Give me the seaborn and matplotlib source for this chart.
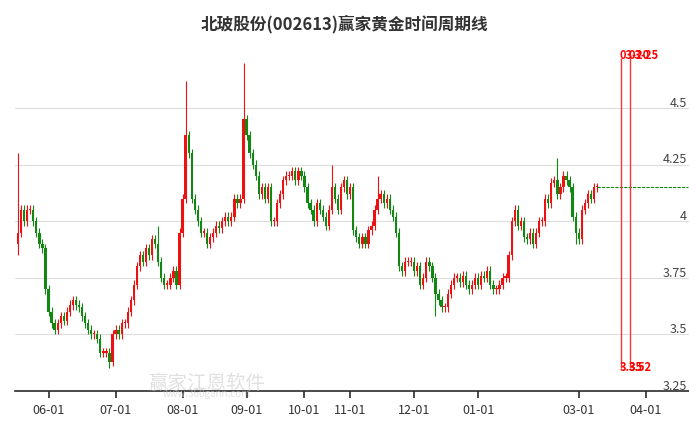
import numpy as np
import matplotlib
matplotlib.use("Agg")
import matplotlib.pyplot as plt
import seaborn as sns

closes = [3.95, 4.05, 4.0, 4.05, 4.05, 4.0, 3.95, 3.9, 3.88, 3.7,
          3.6, 3.55, 3.52, 3.55, 3.58, 3.56, 3.6, 3.63, 3.65, 3.63,
          3.62, 3.58, 3.55, 3.52, 3.5, 3.5, 3.48, 3.42, 3.42, 3.42,
          3.38, 3.5, 3.52, 3.5, 3.55, 3.55, 3.6, 3.65, 3.72, 3.8,
          3.85, 3.82, 3.88, 3.85, 3.92, 3.9, 3.82, 3.75, 3.72, 3.72,
          3.75, 3.78, 3.72, 3.95, 4.1, 4.38, 4.3, 4.1, 4.05, 4.0,
          3.95, 3.95, 3.9, 3.93, 3.95, 3.98, 3.97, 4.0, 4.02, 4.0,
          4.02, 4.1, 4.08, 4.1, 4.45, 4.38, 4.3, 4.25, 4.2, 4.12,
          4.15, 4.1, 4.15, 4.0, 4.0, 4.08, 4.12, 4.18, 4.2, 4.2,
          4.22, 4.18, 4.22, 4.2, 4.15, 4.08, 4.05, 4.0, 4.08, 4.05,
          4.02, 3.98, 4.05, 4.15, 4.1, 4.05, 4.15, 4.18, 4.12, 4.15,
          3.96, 3.93, 3.9, 3.93, 3.9, 3.96, 3.98, 4.05, 4.1, 4.12,
          4.08, 4.1, 4.05, 4.02, 3.95, 3.8, 3.78, 3.82, 3.82, 3.82,
          3.78, 3.8, 3.72, 3.75, 3.82, 3.8, 3.75, 3.68, 3.65, 3.62,
          3.62, 3.68, 3.72, 3.75, 3.75, 3.73, 3.76, 3.72, 3.7, 3.72,
          3.75, 3.72, 3.76, 3.75, 3.78, 3.72, 3.7, 3.7, 3.72, 3.75,
          3.75, 3.85, 4.0, 4.05, 3.98, 4.0, 3.93, 3.92, 3.95, 3.9,
          3.95, 4.0, 4.0, 4.1, 4.08, 4.17, 4.18, 4.12, 4.15, 4.2,
          4.18, 4.15, 4.02, 3.95, 3.92, 4.05, 4.08, 4.12, 4.1, 4.15,
          4.15]
first_open = 3.9
spike_highs = {0: 4.3, 55: 4.62, 74: 4.7, 46: 3.98, 103: 4.25, 118: 4.2, 177: 4.28}
spike_lows = {30: 3.35, 0: 3.85, 137: 3.58, 183: 3.9}

tick_pos = [10, 32, 54, 75, 94, 109, 130, 151, 184, 206]
tick_labels = ["06-01", "07-01", "08-01", "09-01", "10-01", "11-01",
               "12-01", "01-01", "03-01", "04-01"]
y_ticks = [3.25, 3.5, 3.75, 4, 4.25, 4.5]
cycle_lines = [198, 201]
cycle_top = ["03-20", "03-25"]
cycle_bottom = ["3.35", "3.52"]
last_price = 4.15

sns.set_theme(style="white")
plt.rcParams["font.family"] = ["Noto Sans CJK SC", "DejaVu Sans"]

fig = plt.figure(figsize=(6.89, 4.27), dpi=100)
ax = fig.add_axes([15 / 689, 35 / 427, 674 / 689, 352 / 427])

opens = [first_open] + closes[:-1]
idx = np.arange(len(closes))
for i, (o, c) in enumerate(zip(opens, closes)):
    col = "#ee1111" if c >= o else "#118811"
    hi = spike_highs.get(i, max(o, c) + 0.02)
    lo = spike_lows.get(i, min(o, c) - 0.02)
    ax.vlines(i, lo, hi, color=col, linewidth=0.8)
    body = max(abs(c - o), 0.006)
    ax.bar(i, body, bottom=min(o, c), width=0.75, color=col, linewidth=0)

sns.lineplot(x=[len(closes) - 1, 220], y=[last_price, last_price], ax=ax,
             color="#118811", linestyle=(0, (3, 1)), linewidth=0.8)

for k, xp in enumerate(cycle_lines):
    ax.vlines(xp, 3.35, 4.72, color="#ff3333", linewidth=1)
    ax.text(xp - 0.5, 4.735, cycle_top[k], color="#ff0000", fontsize=8,
            fontweight="bold", va="center", ha="left")
    ax.text(xp - 0.5, 3.36, cycle_bottom[k], color="#ff0000", fontsize=8,
            fontweight="bold", va="center", ha="left")

for v in y_ticks:
    ax.axhline(v, color="#dddddd", linewidth=0.8, zorder=0)
    ax.text(219.5, v + 0.025, f"{v:g}", ha="right", va="center",
            fontsize=9, color="#444444")

ax.text(62, 3.29, "赢家江恩软件", fontsize=14, color="#cccccc", alpha=0.6,
        ha="center", va="center")
ax.text(62, 3.24, "www.360gann.com", fontsize=7, color="#cccccc", alpha=0.6,
        ha="center", va="center")

ax.set_xlim(-1, 220.2)
ax.set_ylim(3.25, 4.805)
ax.set_xticks(tick_pos)
ax.set_xticklabels(tick_labels, fontsize=9, color="#333333")
ax.set_yticks([])
ax.tick_params(axis="x", length=5, color="#333333", direction="out", bottom=True)
for s in ["left", "right", "top"]:
    ax.spines[s].set_visible(False)
ax.spines["bottom"].set_color("#333333")

fig.suptitle("北玻股份(002613)赢家黄金时间周期线", fontsize=12,
             fontweight="bold", y=0.965, color="#333333")

fig.savefig("out.png", dpi=100)
